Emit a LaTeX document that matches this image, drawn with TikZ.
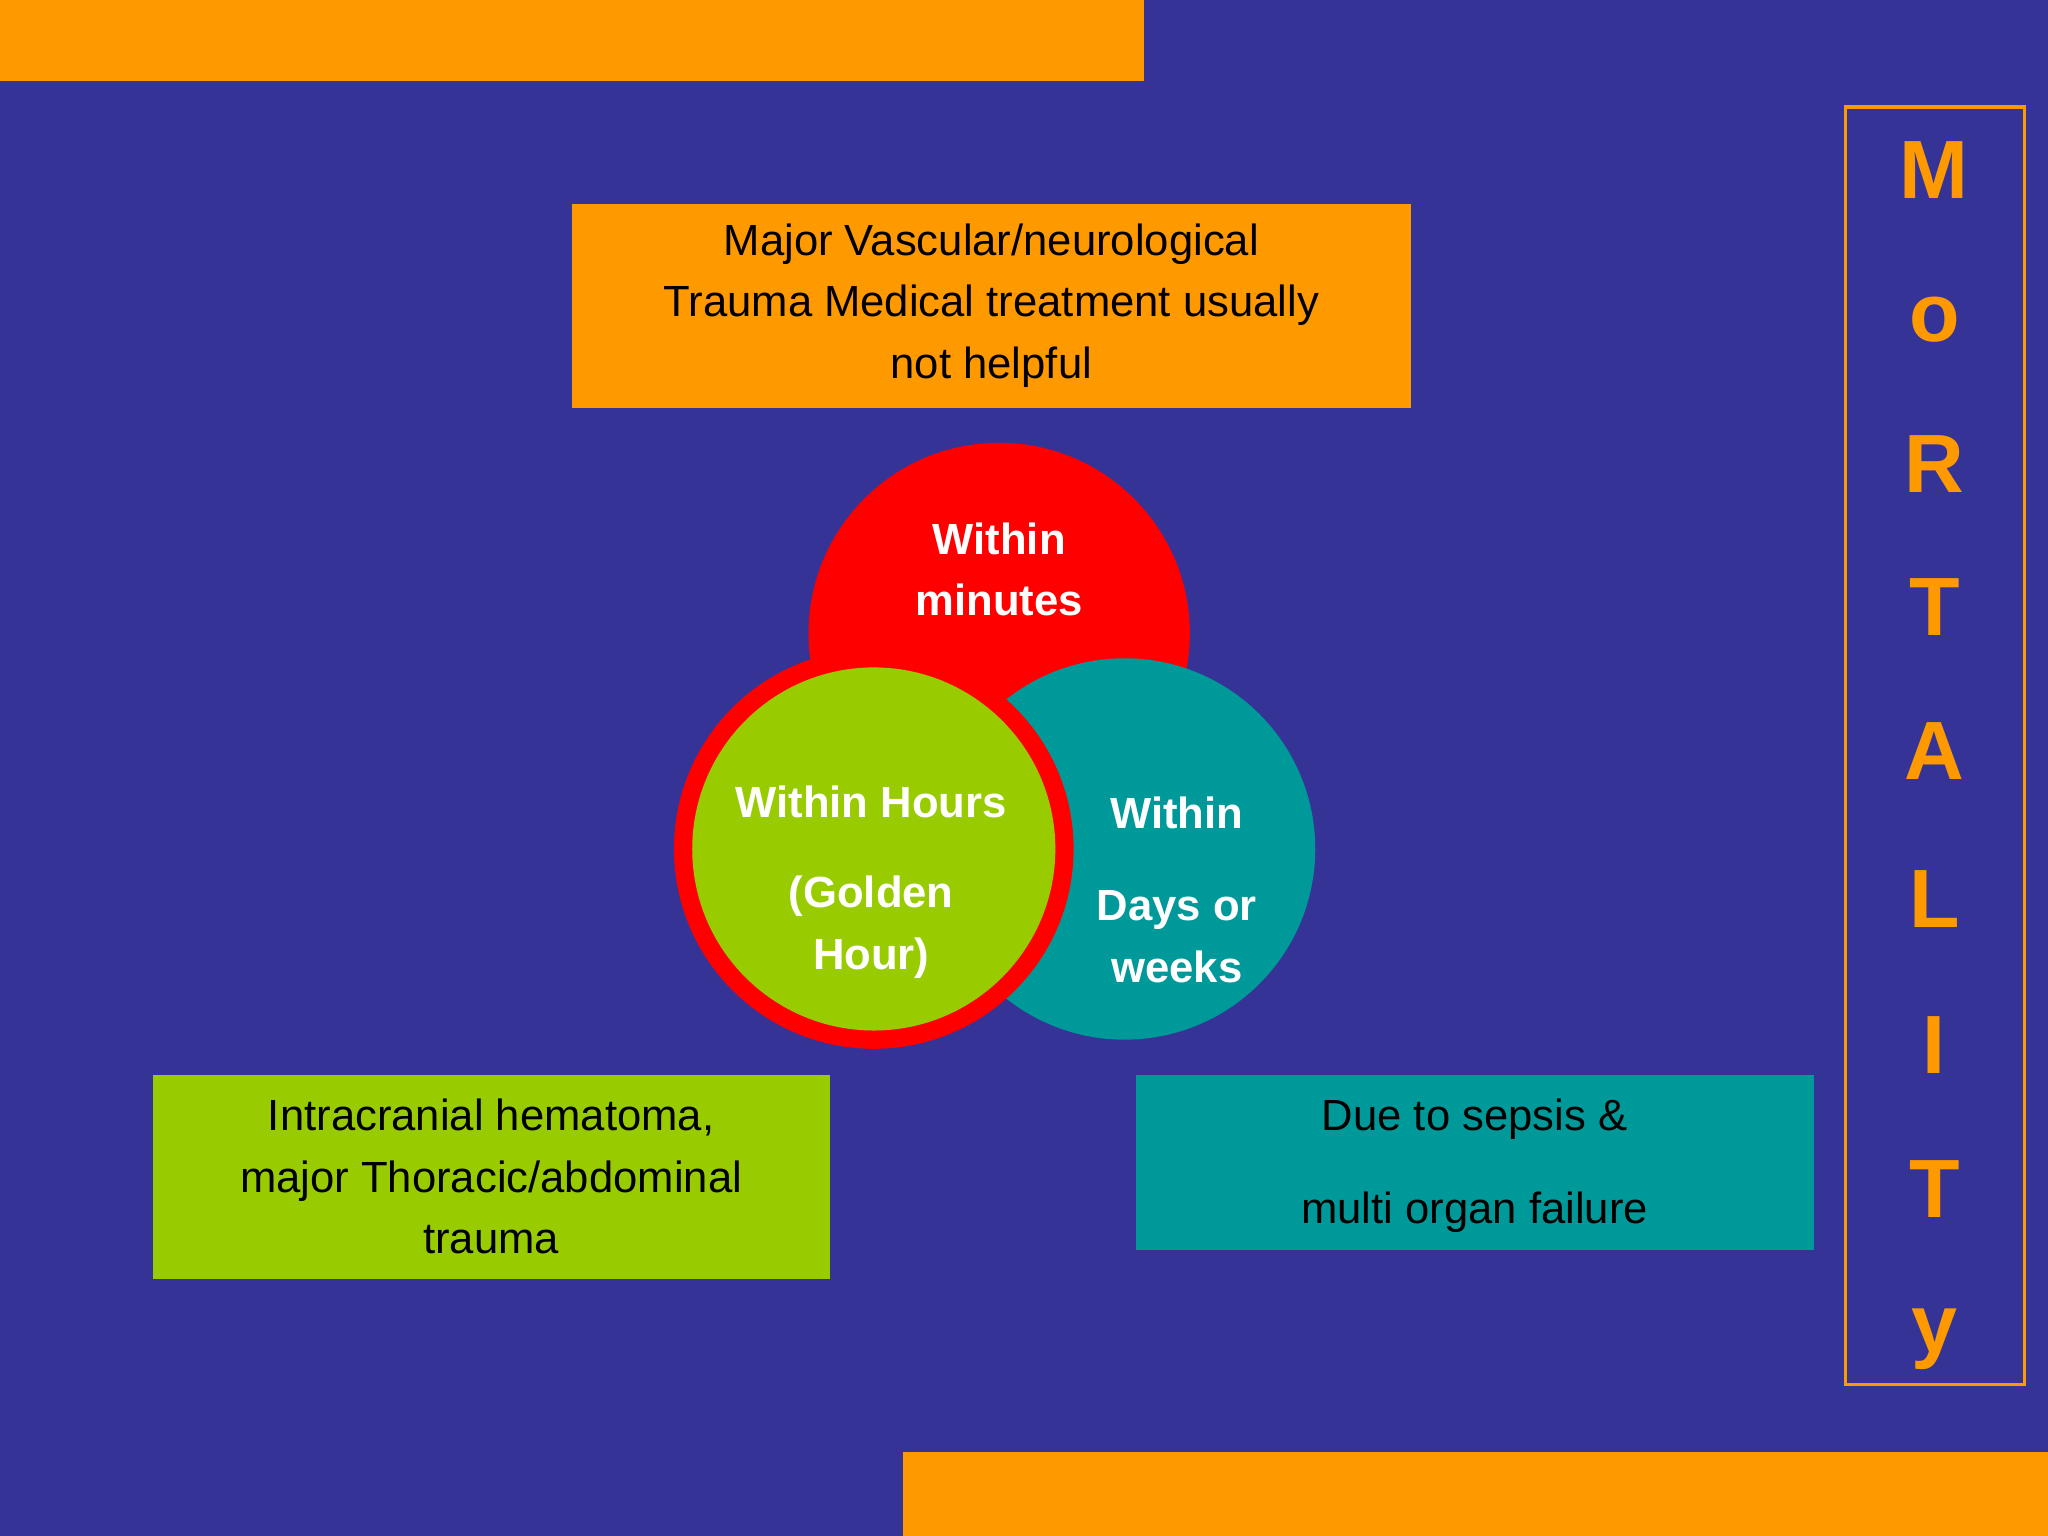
\documentclass[tikz,border=0pt]{standalone}
\usepackage{fontspec}
\setmainfont{Liberation Sans}
\definecolor{bg}{RGB}{54,51,150}
\definecolor{org}{RGB}{255,153,0}
\definecolor{grn}{RGB}{153,204,0}
\definecolor{tea}{RGB}{0,153,153}
\begin{document}
\begin{tikzpicture}[x=0.01cm,y=-0.01cm,
  ttxt/.style={font=\fontsize{9.5}{13.4}\selectfont,text=black,align=center},
  ctxt/.style={font=\bfseries\fontsize{9.5}{13.4}\selectfont,text=white,align=center},
  letter/.style={font=\bfseries\fontsize{18}{20}\selectfont,text=org}]
\fill[bg] (0,0) rectangle (1568,1176);
\useasboundingbox (0,0) rectangle (1568,1176);
\fill[org] (0,0) rectangle (876,62);
\fill[org] (691,1112) rectangle (1568,1176);
\draw[org,line width=0.8pt] (1413,82) rectangle (1550,1060);
\foreach \l/\y [count=\i] in {M/130,o/245,R/355,T/465,A/575,L/688,I/800,T/910,y/1025}
  \node[letter] (L\i) at (1481,\y) {\l};
\node[fill=org,minimum width=6.42cm,minimum height=1.56cm,inner sep=0] (top) at (759,234) {};
\node[ttxt] (toptext) at (top) {Major Vascular/neurological\\Trauma Medical treatment usually\\not helpful};
\fill[red] (765,485) circle (146);
\fill[tea] (861,650) circle (146);
\fill[red] (669,650) circle (153);
\fill[grn] (669,650) circle (139);
\node[ctxt] (c1) at (765,436) {Within\\minutes};
\node[ctxt] (c2a) at (667,614) {Within Hours};
\node[ctxt] (c2b) at (667,710) {(Golden\\Hour)};
\node[ctxt] (c3a) at (901,622) {Within};
\node[ctxt] (c3b) at (901,717) {Days or\\weeks};
\node[fill=grn,minimum width=5.18cm,minimum height=1.56cm,inner sep=0] (gb) at (376,901) {};
\node[ttxt] (gbt) at (gb) {Intracranial hematoma,\\major Thoracic/abdominal\\trauma};
\node[fill=tea,minimum width=5.19cm,minimum height=1.34cm,inner sep=0] (tb) at (1129.5,890) {};
\node[ttxt] (tb1) at (1129,857) {Due to sepsis \&};
\node[ttxt] (tb2) at (1129,928) {multi organ failure};
\end{tikzpicture}
\end{document}
